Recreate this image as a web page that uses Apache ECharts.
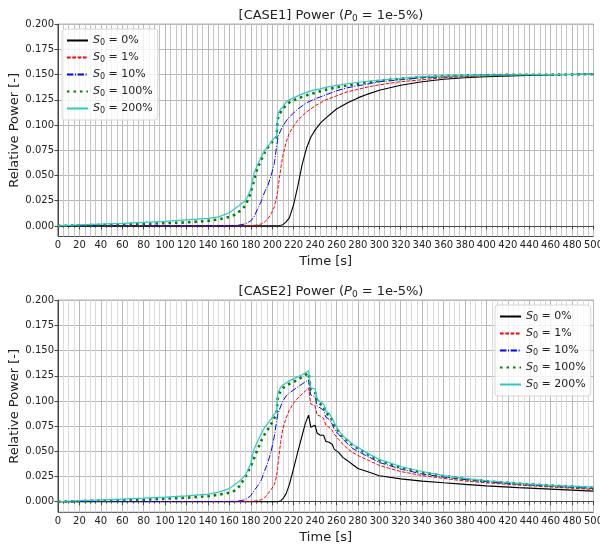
<!DOCTYPE html>
<html><head><meta charset="utf-8">
<script src="https://cdn.jsdelivr.net/npm/echarts@6/dist/echarts.min.js"></script>
<style>html,body{margin:0;padding:0;background:#fff}#c{width:600px;height:546px}</style>
</head><body><div id="c"></div>
<script>
// ---- data ----
const seriesNames = ['S0 = 0%', 'S0 = 1%', 'S0 = 10%', 'S0 = 100%', 'S0 = 200%'];
const legendPercents = ['0%', '1%', '10%', '100%', '200%'];
const yTicks = [0, 0.025, 0.05, 0.075, 0.1, 0.125, 0.15, 0.175, 0.2];
const chartTitles = ['[CASE1] Power', '[CASE2] Power'];

const case1Time = [0,20,40,60,80,100,120,140,150,160,165,170,175,180,183,186,190,193,196,199,202,204,205,206,208,210,213,216,220,224,228,232,236,240,245,250,260,270,280,290,300,320,340,360,380,400,430,460,500];
const case1S0 = [0,0,0,0,0, 0,0,0,0,0, 0,0,0,0,0, 0,0,0,0,0, 0,0,0,0.0002,0.0006, 0.0012,0.004,0.008,0.021,0.040, 0.061,0.077,0.088,0.095,0.102, 0.107,0.116,0.122,0.127,0.131, 0.1345,0.1395,0.143,0.1455,0.147, 0.148,0.149,0.150,0.1505];
const case1S1 = [0.0002,0.0002,0.0002,0.0002,0.0002,0.0002,0.0002,0.0002,0.0002,0.0002,0.0002,0.0002,0.0002,0.0002, 0.0005,0.001,0.002,0.004,0.007, 0.012,0.019,0.028,0.034,0.042, 0.057,0.07,0.083,0.092,0.099, 0.105,0.109,0.113,0.116,0.119, 0.122,0.125,0.129,0.133,0.1355, 0.138,0.140,0.143,0.145,0.147, 0.148,0.149,0.150,0.150,0.1505];
const case1S10 = [0.0002,0.0002,0.0002,0.0002,0.0002,0.0002,0.0002,0.0002,0.0002,0.0002, 0.0005,0.001,0.002,0.005,0.009, 0.016,0.025,0.034,0.040,0.05, 0.062,0.078,0.085,0.09,0.095, 0.099,0.104,0.108,0.112,0.116, 0.119,0.122,0.124,0.126,0.128, 0.130,0.134,0.137,0.139,0.141, 0.143,0.145,0.147,0.148,0.149, 0.1495,0.150,0.150,0.1505];
const case1S100 = [0,0.0005,0.001,0.0015,0.002, 0.0027,0.0035,0.005,0.0065,0.009, 0.011,0.015,0.02,0.033,0.045, 0.057,0.066,0.073,0.078,0.082, 0.086,0.088,0.105,0.11,0.113, 0.116,0.120,0.1225,0.1245,0.1265, 0.128,0.1295,0.131,0.132,0.1335, 0.135,0.1375,0.1395,0.141,0.1425, 0.144,0.146,0.1475,0.1485,0.149, 0.1495,0.150,0.150,0.1505];
const case1S200 = [0,0.001,0.0018,0.0025,0.0035, 0.0045,0.006,0.0075,0.009,0.013, 0.017,0.021,0.025,0.036,0.052, 0.06,0.069,0.075,0.079,0.083, 0.087,0.089,0.108,0.113,0.116, 0.118,0.123,0.125,0.127,0.129, 0.131,0.1325,0.134,0.135,0.136, 0.1375,0.1395,0.141,0.1425,0.1435, 0.1445,0.1465,0.148,0.1485,0.149, 0.1495,0.150,0.150,0.1505];

const case2Time = [0,20,40,60,80,100,120,140,150,160,165,170,175,180,183,186,190,193,196,199,202,204,205,206,208,210,213,216,220,224,228,231,234,235,236,238,240,242,245,248,250,253,256,258,262,266,270,275,280,290,300,320,340,360,380,400,430,460,500];
const case2S0 = [0,0,0,0,0,0,0,0,0,0,0,0,0,0,0,0,0,0,0,0,0,0,0, 0.0003,0.001,0.003,0.008,0.017, 0.033,0.05,0.066,0.078,0.086, 0.08,0.074,0.075,0.076,0.068, 0.066,0.066,0.06,0.059,0.057, 0.052,0.049,0.044,0.041,0.037, 0.033,0.0295,0.0258,0.0227,0.0205, 0.0188,0.0172,0.0157,0.0140,0.0125, 0.0105];
const case2S1 = [0.0002,0.0002,0.0002,0.0002,0.0002,0.0002,0.0002,0.0002,0.0002,0.0002,0.0002,0.0002,0.0002,0.0002, 0.0005,0.001,0.002,0.004,0.008, 0.012,0.017,0.025,0.033,0.043, 0.06,0.073,0.083,0.091,0.098, 0.103,0.107,0.110,0.113,0.104, 0.097,0.096,0.095,0.086,0.085, 0.083,0.076,0.074,0.071,0.067, 0.062,0.057,0.053,0.049,0.046, 0.041,0.036,0.030,0.026,0.0232, 0.0206,0.0188,0.0165,0.0146,0.0122];
const case2S10 = [0.0002,0.0002,0.0002,0.0002,0.0002,0.0002,0.0002,0.0002,0.0002,0.0002, 0.0005,0.001,0.002,0.006,0.011, 0.015,0.022,0.031,0.039,0.05, 0.065,0.079,0.086,0.089,0.095, 0.1,0.105,0.108,0.111,0.114, 0.117,0.119,0.121,0.112,0.106, 0.105,0.104,0.095,0.093,0.091, 0.084,0.082,0.077,0.072,0.067, 0.062,0.058,0.053,0.050,0.0445, 0.039,0.0325,0.0275,0.0245,0.022, 0.0198,0.0174,0.0155,0.0132];
const case2S100 = [0,0.0005,0.001,0.0015,0.002,0.003,0.004,0.0055,0.007,0.009, 0.011,0.016,0.025,0.035,0.043, 0.051,0.061,0.067,0.072,0.077, 0.083,0.087,0.102,0.106,0.11, 0.113,0.115,0.117,0.119,0.121, 0.124,0.126,0.128,0.119,0.111, 0.11,0.109,0.1,0.097,0.095, 0.088,0.086,0.081,0.076,0.070, 0.064,0.061,0.056,0.053,0.0465, 0.041,0.034,0.029,0.0255,0.0225, 0.0203,0.018,0.016,0.0138];
const case2S200 = [0,0.001,0.0018,0.0026,0.0035,0.0045,0.0058,0.0075,0.0095,0.013, 0.017,0.021,0.026,0.038,0.052, 0.059,0.068,0.074,0.078,0.082, 0.087,0.089,0.106,0.11,0.114, 0.116,0.118,0.12,0.122,0.124, 0.126,0.128,0.130,0.121,0.113, 0.1125,0.112,0.102,0.099,0.097, 0.090,0.088,0.083,0.078,0.071, 0.065,0.062,0.057,0.054,0.0475, 0.042,0.035,0.030,0.026,0.0232, 0.0208,0.0182,0.0163,0.0145];

// ---- styling ----
const FONT = 'DejaVu Sans';
const styles = [
  {color: '#000000', type: 'solid', width: 1.1},
  {color: '#ff0000', type: [3.7, 1.6], width: 1},
  {color: '#0000ff', type: [6.4, 1.6, 1, 1.6], width: 1},
  {color: '#008000', type: [2.5, 4], width: 2.6},
  {color: '#2ec8c8', type: 'solid', width: 1.2}
];
const grids = [
  {left: 58, right: 6.5, top: 24.3, height: 212.2},
  {left: 58, right: 6.5, top: 300.3, height: 212.0}
];
const case1Values = [case1S0, case1S1, case1S10, case1S100, case1S200];
const case2Values = [case2S0, case2S1, case2S10, case2S100, case2S200];

function zip(t, v) { return t.map((x, i) => [x, v[i]]); }

const richSub = {
  i: {fontFamily: FONT, fontStyle: 'italic', fontSize: 11, color: '#222'},
  s: {fontFamily: FONT, fontSize: 8, color: '#222', verticalAlign: 'bottom', padding: [5, 0, 0, 0]},
  n: {fontFamily: FONT, fontSize: 11, color: '#222'}
};

function legendFormatter(name) {
  const k = seriesNames.indexOf(name);
  return '{i|S}{s|0}{n| = ' + legendPercents[k] + '}';
}

function makeLegend(pos) {
  return Object.assign({
    orient: 'vertical',
    data: seriesNames,
    itemWidth: 21,
    itemHeight: 10,
    itemGap: 4,
    padding: [5, 5, 5, 4],
    backgroundColor: 'rgba(255,255,255,0.8)',
    borderColor: '#d6d6d6',
    borderWidth: 1,
    borderRadius: 3,
    selectedMode: false,
    itemStyle: {opacity: 0, color: 'transparent', borderWidth: 0},
    formatter: legendFormatter,
    textStyle: {fontFamily: FONT, fontSize: 11, color: '#222', lineHeight: 13, rich: richSub}
  }, pos);
}

const xAxes = [], yAxes = [], series = [], titles = [];
[0, 1].forEach(gi => {
  titles.push({
    text: chartTitles[gi] + ' ({i|P}{s|0}{n| = 1e-5%)}',
    left: 326, top: gi === 0 ? 3 : 279, textAlign: 'center',
    textStyle: {
      fontFamily: FONT, fontSize: 13, fontWeight: 'normal', color: '#222',
      rich: {
        i: {fontFamily: FONT, fontStyle: 'italic', fontSize: 13, color: '#222'},
        s: {fontFamily: FONT, fontSize: 9, color: '#222', verticalAlign: 'bottom', padding: [6, 0, 0, 0]},
        n: {fontFamily: FONT, fontSize: 13, color: '#222'}
      }
    }
  });
  xAxes.push({
    type: 'value', gridIndex: gi, min: 0, max: 500, interval: 20,
    name: 'Time [s]', nameLocation: 'middle', nameGap: 18.5,
    nameTextStyle: {fontFamily: FONT, fontSize: 13, color: '#222'},
    axisLine: {show: true, lineStyle: {color: '#444', width: 1}},
    axisTick: {show: true, length: 3.5, lineStyle: {color: '#444'}},
    minorTick: {show: true, splitNumber: 4, length: 2, lineStyle: {color: '#666'}},
    axisLabel: {fontFamily: FONT, fontSize: 10, color: '#222', margin: 4, showMaxLabel: true, showMinLabel: true},
    splitLine: {show: true, lineStyle: {color: '#b8b8b8', width: 1}},
    minorSplitLine: {show: true, lineStyle: {color: gi === 0 ? '#c4c4c4' : '#dadada', width: 1}}
  });
  yAxes.push({
    type: 'value', gridIndex: gi, min: -0.0105, max: 0.2,
    name: 'Relative Power [-]', nameLocation: 'middle', nameGap: 37, nameMoveOverlap: false,
    nameTextStyle: {fontFamily: FONT, fontSize: 13, color: '#222'},
    axisLine: {show: true, lineStyle: {color: '#444', width: 1}},
    axisTick: {show: true, length: 3.5, customValues: yTicks, lineStyle: {color: '#444'}},
    axisLabel: {fontFamily: FONT, fontSize: 10, color: '#222', margin: 4, customValues: yTicks,
      formatter: v => v.toFixed(3)},
    splitLine: {show: true, lineStyle: {color: '#b8b8b8', width: 1}}
  });
  const vals = gi === 0 ? case1Values : case2Values;
  const tt = gi === 0 ? case1Time : case2Time;
  vals.forEach((v, k) => {
    series.push({
      type: 'line', name: seriesNames[k], xAxisIndex: gi, yAxisIndex: gi,
      data: zip(tt, v), symbol: 'none', showSymbol: false, animation: false,
      color: styles[k].color,
      lineStyle: {color: styles[k].color, type: styles[k].type, width: styles[k].width},
      z: 2 + k
    });
  });
});

const chart = echarts.init(document.getElementById('c'), null, {renderer: 'canvas'});
chart.setOption({
  animation: false,
  backgroundColor: '#fff',
  title: titles,
  grid: grids.map(g => Object.assign({show: true, borderColor: '#444', borderWidth: 1, backgroundColor: 'transparent', containLabel: false, outerBoundsMode: 'none'}, g)),
  legend: [
    makeLegend({left: 62, top: 29}),
    makeLegend({left: 495, top: 305})
  ],
  xAxis: xAxes,
  yAxis: yAxes,
  series: series
});
</script></body></html>
